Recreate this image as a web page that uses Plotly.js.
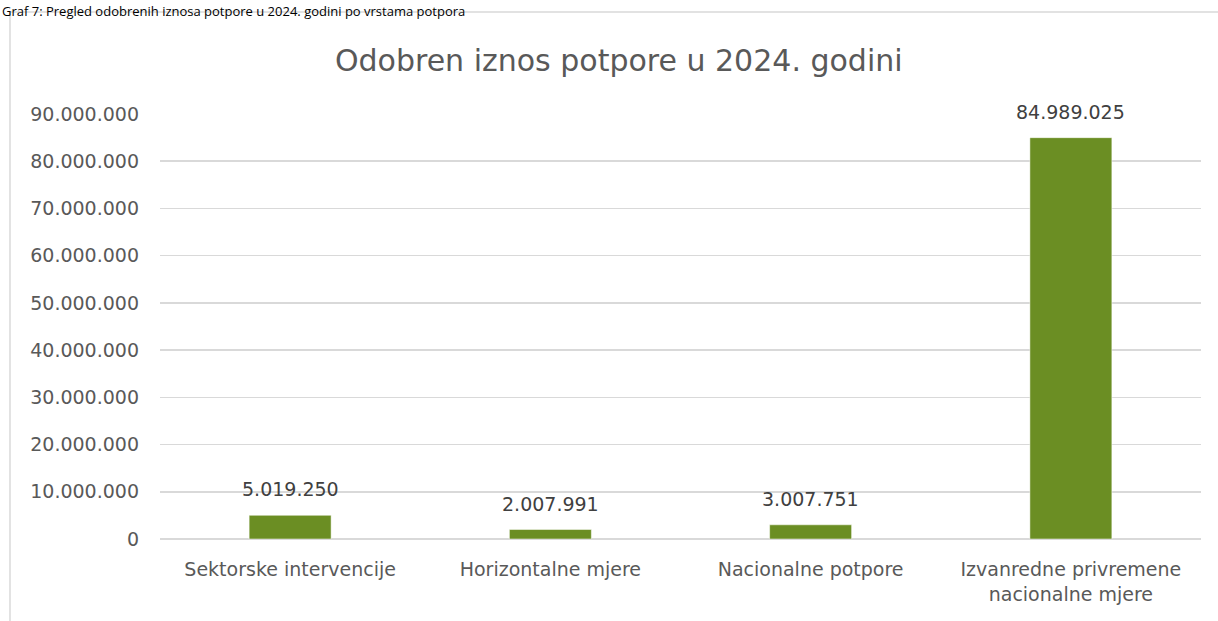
<!DOCTYPE html>
<html>
<head>
<meta charset="utf-8">
<script src="https://cdn.plot.ly/plotly-3.0.1.min.js"></script>
<style>
  body { margin: 0; background: #fff; }
  #chart { width: 1218px; height: 621px; }
</style>
</head>
<body>
<div id="chart"></div>
<script>
// categories and approved amounts (EUR)
var categories = ['Sektorske intervencije', 'Horizontalne mjere', 'Nacionalne potpore', 'Izvanredne privremene<br>nacionalne mjere'];
var amounts = [5019250, 2007991, 3007751, 84989025];
var tickVals = [0, 10000000, 20000000, 30000000, 40000000, 50000000, 60000000, 70000000, 80000000, 90000000];
var tickText = ['0', '10.000.000', '20.000.000', '30.000.000', '40.000.000', '50.000.000', '60.000.000', '70.000.000', '80.000.000', '90.000.000'];

var FONT = '"DejaVu Sans", sans-serif';

function dots(n) {
    return String(n).replace(/\B(?=(\d{3})+(?!\d))/g, '.');
}

var trace = {
    x: categories,
    y: amounts,
    type: 'bar',
    width: 0.315,
    marker: { color: '#6b8e23', line: { color: '#ffffff', width: 0.5 } },
    hoverinfo: 'none'
};

// value labels above the bars
var labels = categories.map(function (c, i) {
    return {
        x: c, y: amounts[i], xref: 'x', yref: 'y',
        text: dots(amounts[i]),
        showarrow: false, yanchor: 'bottom', yshift: 13,
        font: { family: FONT, size: 19, color: '#404040' }
    };
});

labels.push({
    text: 'Graf 7: Pregled odobrenih iznosa potpore u 2024. godini po vrstama potpora',
    xref: 'paper', yref: 'paper',
    x: -0.1537, xanchor: 'left',
    y: (539 - 0) / 425, yanchor: 'top',
    showarrow: false,
    font: { family: '"Open Sans", sans-serif', size: 13, color: '#000000' }
});

var layout = {
    width: 1218,
    height: 621,
    margin: { l: 160, r: 17, t: 114, b: 82 },
    paper_bgcolor: '#ffffff',
    plot_bgcolor: '#ffffff',
    showlegend: false,
    font: { family: FONT, color: '#595959' },
    title: {
        text: 'Odobren iznos potpore u 2024. godini',
        font: { family: FONT, size: 30, color: '#595959' },
        x: 0.508, xanchor: 'center',
        y: 0.903, yanchor: 'middle'
    },
    xaxis: {
        type: 'category',
        tickfont: { size: 19, color: '#595959' },
        showline: false,
        ticks: '',
        ticklabelstandoff: 17,
        showgrid: false
    },
    yaxis: {
        range: [0, 90000000],
        tickvals: tickVals,
        ticktext: tickText,
        tickfont: { size: 19, color: '#595959' },
        ticks: '',
        ticklabelstandoff: 20,
        gridcolor: '#d9d9d9',
        gridwidth: 1.5,
        zeroline: true,
        zerolinecolor: '#d9d9d9',
        zerolinewidth: 1.5,
        fixedrange: true
    },
    shapes: [{
        type: 'rect', xref: 'paper', yref: 'paper',
        x0: -0.1441, x1: 1.2, y0: -0.5, y1: 1.24,
        line: { color: '#d9d9d9', width: 1.5 },
        fillcolor: 'rgba(0,0,0,0)'
    }],
    annotations: labels
};

Plotly.newPlot('chart', [trace], layout, { displayModeBar: false, staticPlot: true });
</script>
</body>
</html>
